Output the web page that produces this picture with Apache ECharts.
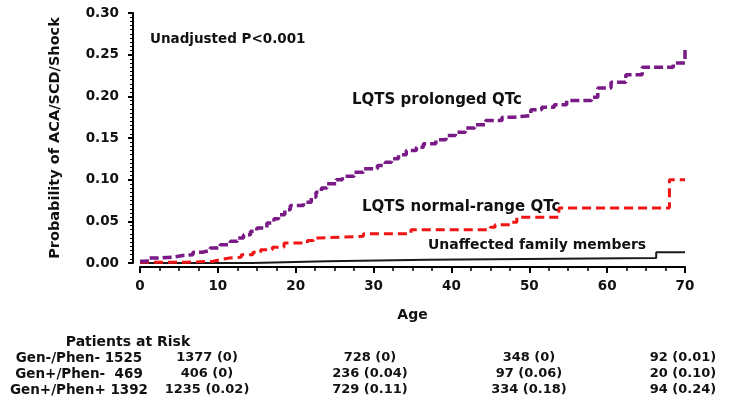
<!DOCTYPE html>
<html>
<head>
<meta charset="utf-8">
<script src="https://cdn.jsdelivr.net/npm/echarts@6/dist/echarts.min.js"></script>
<style>
html,body{margin:0;padding:0;background:#fff;}
#c{width:729px;height:407px;}
</style>
</head>
<body>
<div id="c"></div>
<script>
// ---- data ----
var prolongedQTc = [
  [0, 0.002], [0.9, 0.006], [2.3, 0.007], [4.2, 0.009], [5.5, 0.010], [6.8, 0.013],
  [8.0, 0.015], [9.0, 0.018], [10.3, 0.022], [11.6, 0.026], [12.5, 0.030], [13.3, 0.034],
  [14.2, 0.038], [15.0, 0.042], [16.3, 0.048], [17.2, 0.053], [17.8, 0.058], [18.6, 0.064],
  [19.3, 0.069], [21.0, 0.073], [22.0, 0.079], [22.6, 0.085], [23.3, 0.090], [24.0, 0.095],
  [25.2, 0.100], [26.0, 0.104], [27.5, 0.109], [28.7, 0.113], [30.5, 0.117], [31.5, 0.121],
  [32.3, 0.125], [33.2, 0.130], [34.2, 0.135], [35.5, 0.139], [36.4, 0.143], [38.0, 0.148],
  [39.3, 0.153], [40.5, 0.157], [41.8, 0.162], [43.0, 0.166], [44.4, 0.171], [46.5, 0.175],
  [48.0, 0.177], [50.2, 0.184], [51.6, 0.187], [53.2, 0.190], [54.8, 0.195], [58.0, 0.199],
  [58.8, 0.210], [60.5, 0.217], [62.4, 0.226], [64.5, 0.235], [68.5, 0.240], [70.0, 0.258]
];
var normalQTc = [
  [0, 0.001], [6.0, 0.002], [9.4, 0.004], [10.3, 0.006], [11.5, 0.007], [13.0, 0.010],
  [14.5, 0.013], [15.5, 0.016], [17.0, 0.019], [18.5, 0.024], [21.5, 0.027], [22.3, 0.030],
  [23.0, 0.032], [28.7, 0.035], [34.8, 0.040], [45.0, 0.043], [45.6, 0.046], [47.6, 0.049],
  [48.4, 0.055], [53.8, 0.066], [68.0, 0.100], [70.0, 0.100]
];
var unaffected = [
  [0, 0.0], [14.5, 0.002], [24.0, 0.004], [37.0, 0.006], [66.3, 0.013], [70.0, 0.013]
];
var curveLabels = ["LQTS prolonged QTc", "LQTS normal-range QTc", "Unaffected family members"];
var pValueText = "Unadjusted P<0.001";
var riskTitle = "Patients at Risk";
var riskRowLabels = ["Gen-/Phen- 1525", "Gen+/Phen-  469", "Gen+/Phen+ 1392"];
var riskAt10 = ["1377 (0)", "406 (0)", "1235 (0.02)"];
var riskAt30 = ["728 (0)", "236 (0.04)", "729 (0.11)"];
var riskAt50 = ["348 (0)", "97 (0.06)", "334 (0.18)"];
var riskAt70 = ["92 (0.01)", "20 (0.10)", "94 (0.24)"];

// ---- chart ----
var FONT = "DejaVu Sans";
var chart = echarts.init(document.getElementById('c'), null, {renderer: 'canvas'});

var riskCols = [riskAt10, riskAt30, riskAt50, riskAt70];
var colX = [207, 370, 529, 683];
var rowY = [358, 374, 390];
var graphics = [];
function txt(x, y, s, font, align) {
  graphics.push({
    type: 'text', x: x, y: y, silent: true,
    style: {text: s, font: font, fill: '#111', textAlign: align || 'center', textVerticalAlign: 'middle',
            align: align || 'center', verticalAlign: 'middle'}
  });
}
txt(150, 39, pValueText, 'bold 13.5px "' + FONT + '"', 'left');
txt(352, 100, curveLabels[0], 'bold 15px "' + FONT + '"', 'left');
txt(362, 207, curveLabels[1], 'bold 15px "' + FONT + '"', 'left');
txt(428, 245, curveLabels[2], 'bold 14px "' + FONT + '"', 'left');
txt(128, 342, riskTitle, 'bold 14px "' + FONT + '"');
for (var r = 0; r < 3; r++) {
  txt(79, rowY[r], riskRowLabels[r], 'bold 13.5px "' + FONT + '"');
  for (var c = 0; c < 4; c++) {
    txt(colX[c], rowY[r], riskCols[c][r], 'bold 13px "' + FONT + '"');
  }
}

var option = {
  animation: false,
  backgroundColor: '#fff',
  grid: {left: 140, right: 44, top: 13, bottom: 144, containLabel: false},
  xAxis: {
    type: 'value', min: 0, max: 70, interval: 10, offset: 4, position: 'bottom',
    name: 'Age', nameLocation: 'middle', nameGap: 41,
    nameTextStyle: {fontFamily: FONT, fontSize: 14, fontWeight: 'bold', color: '#111'},
    axisLine: {show: true, onZero: false, lineStyle: {color: '#000', width: 2}},
    axisTick: {show: true, length: 6, lineStyle: {color: '#000', width: 2}},
    minorTick: {show: true, splitNumber: 4, length: 4, lineStyle: {color: '#000', width: 1.5}},
    splitLine: {show: false},
    axisLabel: {fontFamily: FONT, fontSize: 13.5, fontWeight: 'bold', color: '#111', margin: 12}
  },
  yAxis: {
    type: 'value', min: 0, max: 0.30, interval: 0.05, offset: 7, position: 'left',
    name: 'Probability of ACA/SCD/Shock', nameLocation: 'middle', nameGap: 70, nameRotate: 90,
    nameTextStyle: {fontFamily: FONT, fontSize: 14.5, fontWeight: 'bold', color: '#111'},
    axisLine: {show: true, onZero: false, lineStyle: {color: '#000', width: 2}},
    axisTick: {show: true, length: 5, lineStyle: {color: '#000', width: 2}},
    minorTick: {show: true, splitNumber: 10, length: 3, lineStyle: {color: '#000', width: 1}},
    splitLine: {show: false},
    axisLabel: {fontFamily: FONT, fontSize: 13.5, fontWeight: 'bold', color: '#111', margin: 14,
      formatter: function (v) { return v.toFixed(2); }}
  },
  series: [
    {type: 'line', name: curveLabels[2], data: unaffected, step: 'end', showSymbol: false, z: 2,
     lineStyle: {color: '#1a1a1a', width: 2}},
    {type: 'line', name: curveLabels[1], data: normalQTc, step: 'end', showSymbol: false, z: 3,
     lineStyle: {color: '#f01414', width: 3, type: [9, 5]}},
    {type: 'line', name: curveLabels[0], data: prolongedQTc, step: 'end', showSymbol: false, z: 4,
     lineStyle: {color: '#7a1a86', width: 3.5, type: [9, 4]}}
  ],
  graphic: graphics
};
chart.setOption(option);
</script>
</body>
</html>
